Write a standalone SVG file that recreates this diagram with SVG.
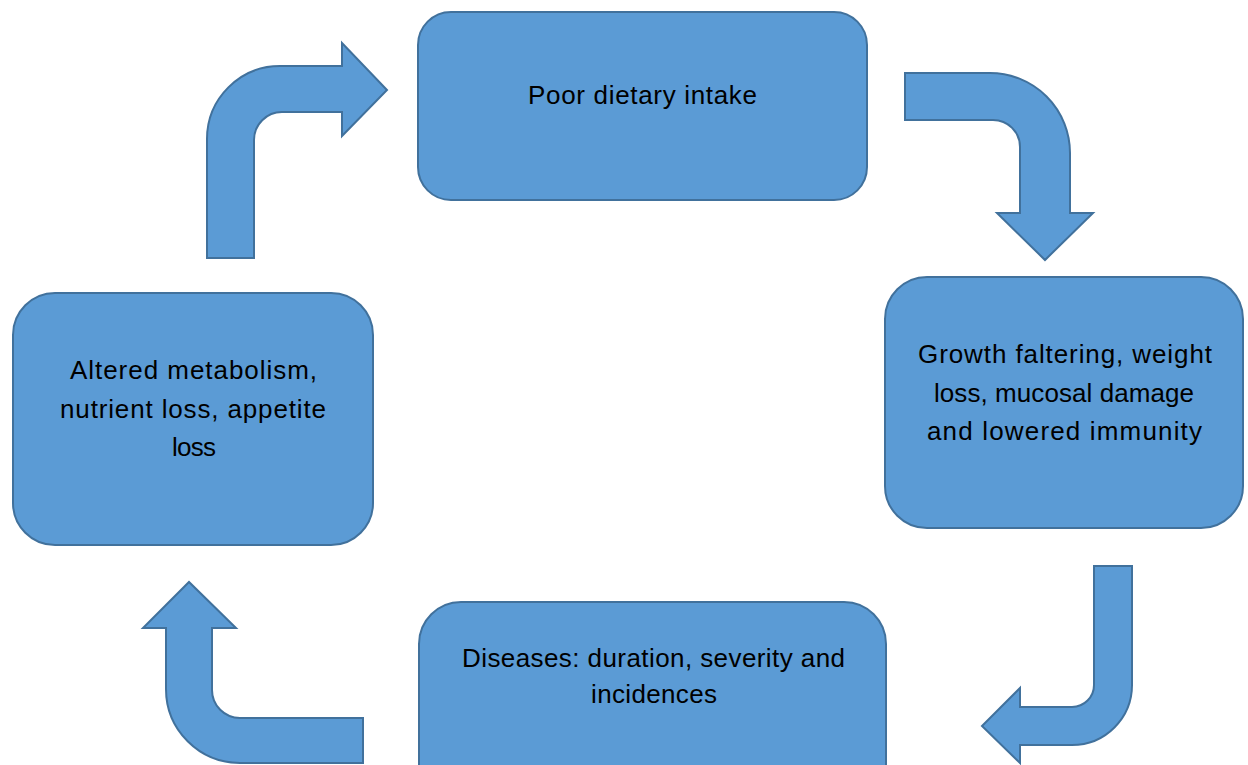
<svg xmlns="http://www.w3.org/2000/svg" width="1248" height="765" viewBox="0 0 1248 765">
  <style>
    .box { fill: #5B9BD5; stroke: #41719C; stroke-width: 2; }
    .arrow { fill: #5B9BD5; stroke: #41719C; stroke-width: 2; stroke-linejoin: miter; }
    .label { font-family: "Liberation Sans", Arial, sans-serif; font-size: 26px; fill: #000; text-anchor: middle; }
  </style>
  <rect width="1248" height="765" fill="#FFFFFF"/>
  <g id="connectors">
    <path class="arrow" d="M207,258 L207,139 A73,73 0 0 1 280,66 L342,66 L342,43 L387,90 L342,136 L342,112 L282,112 A28,28 0 0 0 254,140 L254,258 Z"/>
    <path class="arrow" d="M905,73 L990,73 A80,80 0 0 1 1070,153 L1070,213 L1093,213 L1045,260 L997,213 L1020,213 L1020,147 A27,27 0 0 0 993,120 L905,120 Z"/>
    <path class="arrow" d="M1094,566 L1132,566 L1132,685 A60,60 0 0 1 1072,745 L1020,745 L1020,763 L982,726 L1020,688 L1020,707 L1072,707 A22,22 0 0 0 1094,685 Z"/>
    <path class="arrow" d="M363,718 L363,763 L240,763 A74,74 0 0 1 166,689 L166,628 L143,628 L189,582 L236,628 L212,628 L212,690 A28,28 0 0 0 240,718 Z"/>
  </g>
  <g id="node-poor-dietary-intake">
    <rect class="box" x="418" y="12" width="449" height="188" rx="33" ry="33"/>
    <text class="label" x="642.5" y="104" textLength="229" lengthAdjust="spacing">Poor dietary intake</text>
  </g>
  <g id="node-growth-faltering">
    <rect class="box" x="885" y="277" width="358" height="251" rx="42" ry="42"/>
    <text class="label" x="1065" y="363" textLength="294" lengthAdjust="spacing">Growth faltering, weight</text>
    <text class="label" x="1064" y="402" textLength="260" lengthAdjust="spacing">loss, mucosal damage</text>
    <text class="label" x="1064.5" y="440" textLength="275" lengthAdjust="spacing">and lowered immunity</text>
  </g>
  <g id="node-diseases">
    <rect class="box" x="419" y="602" width="467" height="220" rx="42" ry="42"/>
    <text class="label" x="653.5" y="667" textLength="383" lengthAdjust="spacing">Diseases: duration, severity and</text>
    <text class="label" x="654" y="703" textLength="126" lengthAdjust="spacing">incidences</text>
  </g>
  <g id="node-altered-metabolism">
    <rect class="box" x="13" y="293" width="360" height="252" rx="42" ry="42"/>
    <text class="label" x="193.5" y="379" textLength="247" lengthAdjust="spacing">Altered metabolism,</text>
    <text class="label" x="193" y="418" textLength="266" lengthAdjust="spacing">nutrient loss, appetite</text>
    <text class="label" x="194" y="456" textLength="44" lengthAdjust="spacing">loss</text>
  </g>
</svg>
